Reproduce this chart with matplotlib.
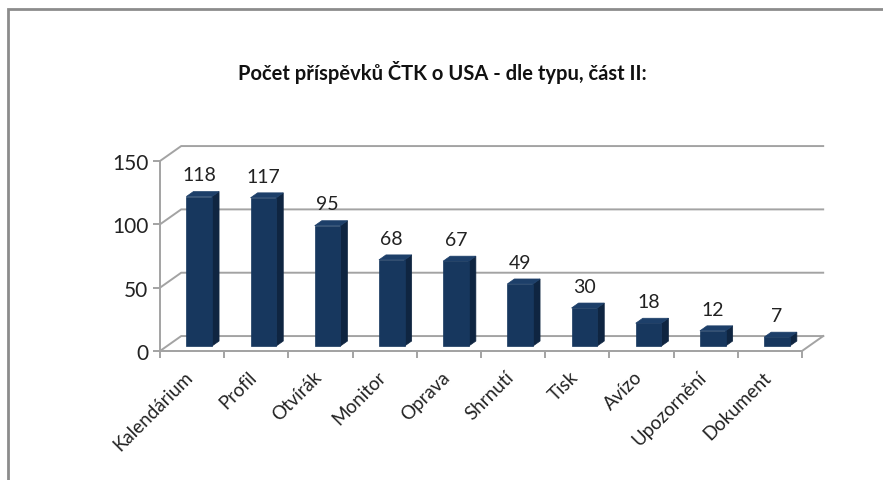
import matplotlib
matplotlib.use("Agg")
import matplotlib.pyplot as plt
from matplotlib.patches import Rectangle
from matplotlib.transforms import ScaledTranslation

plt.rcParams['font.family'] = ['Lato', 'DejaVu Sans']

categories = ['Kalendárium', 'Profil', 'Otvírák', 'Monitor', 'Oprava',
              'Shrnutí', 'Tisk', 'Avízo', 'Upozornění', 'Dokument']
values = [118, 117, 95, 68, 67, 49, 30, 18, 12, 7]
yticks = [0, 50, 100, 150]
title = 'Počet příspěvků ČTK o USA - dle typu, část II:'

# fake 3d depth (category units, value units)
DX, DY = 0.33, 11.8
z0, z1 = 1 / 3, 2 / 3
bar_w = 0.4
grid_c = '#a3a3a3'
front_c, side_c, top_c = '#17375e', '#0f2541', '#1d3f69'

W, H = 883, 481
fig = plt.figure(figsize=(W / 100, H / 100), dpi=100)
ax = fig.add_axes([160 / W, (H - 352) / H, 670 / W, 222 / H])
n = len(categories)
ax.set_xlim(0, 670 / 64.2)
ax.set_ylim(0, 222 / (190 / 150))
ax.patch.set_alpha(0)


def p(x, y, z):
    return x + z * DX, y + z * DY


# walls / gridlines
for v in yticks:
    xs, ys = zip(p(0, v, 0), p(0, v, 1), p(n, v, 1))
    ax.plot(xs, ys, color=grid_c, lw=1.4, zorder=1, clip_on=False)
xs, ys = zip(p(0, 0, 0), p(n, 0, 0), p(n, 0, 1))
ax.plot(xs, ys, color=grid_c, lw=1.4, zorder=1, clip_on=False)

# bars
for i, v in enumerate(values):
    x0 = i + 0.5 - bar_w / 2
    x1 = i + 0.5 + bar_w / 2
    side = [p(x1, 0, z0), p(x1, 0, z1), p(x1, v, z1), p(x1, v, z0)]
    top = [p(x0, v, z0), p(x1, v, z0), p(x1, v, z1), p(x0, v, z1)]
    front = [p(x0, 0, z0), p(x1, 0, z0), p(x1, v, z0), p(x0, v, z0)]
    for poly, c in ((side, side_c), (top, top_c), (front, front_c)):
        xs, ys = zip(*poly)
        ax.fill(xs, ys, color=c, ec=c, lw=0.5, zorder=3)
    lx, ly = p(i + 0.5, v, z0)
    ax.annotate(str(v), (lx, v + z1 * DY), xytext=(0, 6), textcoords='offset points',
                ha='center', va='bottom', fontsize=14, color='#222222', zorder=4)

# axes
for s in ['top', 'right']:
    ax.spines[s].set_visible(False)
ax.spines['left'].set_bounds(0, 150)
ax.spines['bottom'].set_bounds(0, n)
for s in ['left', 'bottom']:
    ax.spines[s].set_color(grid_c)
    ax.spines[s].set_linewidth(1.4)
ax.set_yticks(yticks)
ax.set_xticks(range(n + 1), [''] * (n + 1))
ax.set_xticks([i + 0.5 for i in range(n)], categories, minor=True,
              rotation=45, ha='right', rotation_mode='anchor')
ax.tick_params(axis='both', which='major', color=grid_c, length=5, width=1.4,
               labelsize=15, labelcolor='#222222')
ax.tick_params(axis='x', which='minor', length=0, pad=12, labelsize=13.5,
               labelcolor='#222222')
shift = ScaledTranslation(-0.08, 0, fig.dpi_scale_trans)
for lbl in ax.get_xticklabels(minor=True):
    lbl.set_transform(lbl.get_transform() + shift)

fig.text(442 / W, 1 - 73 / H, title, ha='center', va='center',
         fontsize=14.5, fontweight='bold', color='#111111')

# outer chart frame (cropped)
fig.patches.append(Rectangle((8 / W, -0.1), 1.2, 1 - 10 / H + 0.1,
                             transform=fig.transFigure, fill=False,
                             ec='#8c8c8c', lw=2))

fig.savefig('out.png', dpi=100)
